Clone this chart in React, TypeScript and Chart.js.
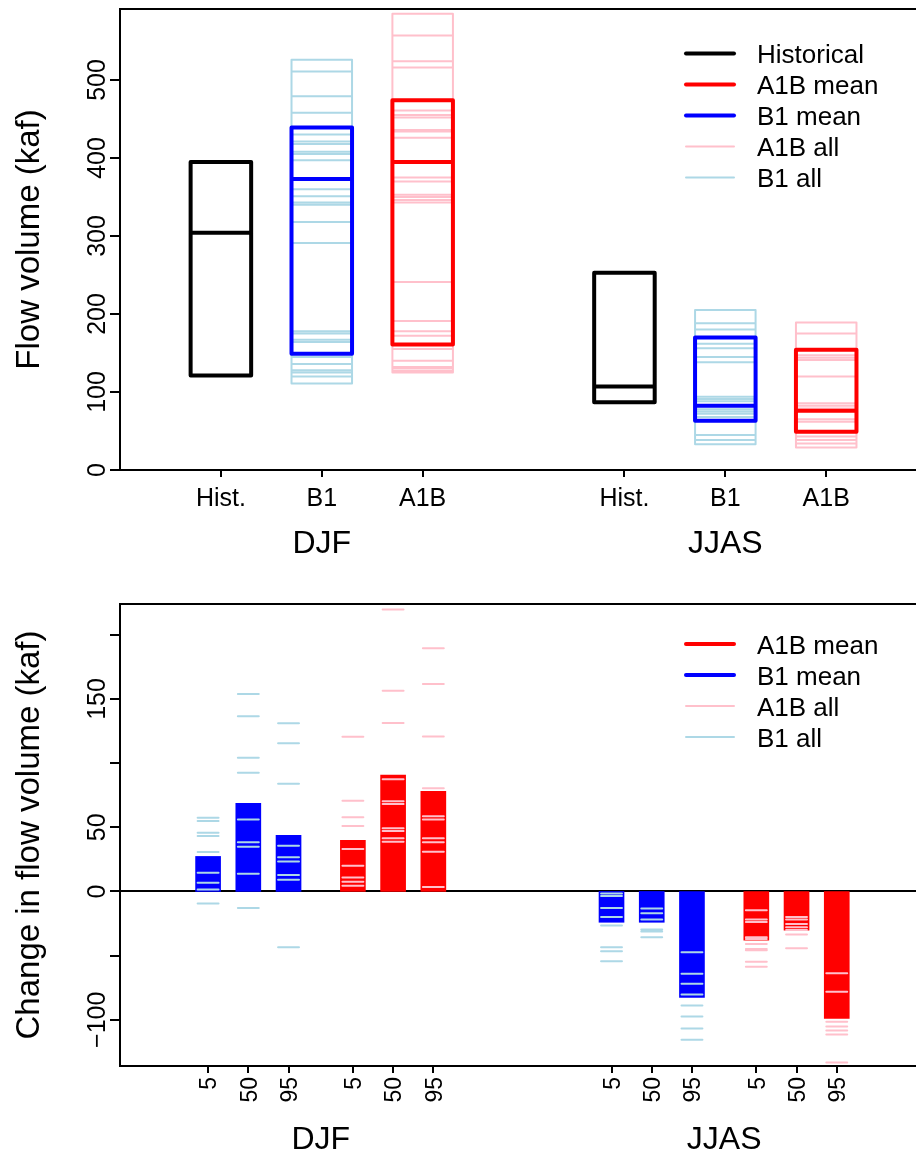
import React, { useEffect, useRef } from "react";
import { Chart, registerables } from "chart.js";

Chart.register(...registerables);

const FONT = '"Liberation Sans", Arial, Helvetica, sans-serif';
const BLACK = "#000000";
const RED = "#FF0000";
const BLUE = "#0000FF";
const PINK = "#FFC0CB";
const LIGHTBLUE = "#ADD8E6";

// ---------- shared categories ----------
const seasons = ["DJF", "JJAS"];

// ---------- top panel: flow volume (kaf) ----------
const topCategories = ["Hist.", "B1", "A1B"];
const topYTicks = [0, 100, 200, 300, 400, 500];

// [low, middle, high]
const histBox = [
  [121, 304, 395],
  [87, 107, 253],
];
const b1MeanBox = [
  [149, 373, 439],
  [63, 82.5, 170],
];
const a1bMeanBox = [
  [161, 395, 474],
  [49, 76, 154],
];

const b1AllDJF = [526, 511, 479, 458, 430, 421, 418, 408, 405, 397, 360, 351, 343, 340, 318, 291, 178, 175, 167, 164, 145, 136, 128, 125, 120, 111];
const b1AllJJAS = [205, 188, 180, 162, 156, 145, 138, 94, 91, 88, 78, 75, 72, 68, 45, 38.5, 33];
const a1bAllDJF = [585, 557, 524, 516, 461, 455, 452, 436, 434, 426, 375, 370, 353, 350, 346, 343, 241, 191, 178, 172, 155, 140, 132, 130, 127, 125];
const a1bAllJJAS = [189, 175, 147, 144, 141, 120, 85.5, 82.5, 79, 65, 62, 43, 38.5, 34, 29];

// ---------- bottom panel: change in flow volume (kaf) ----------
const percentiles = ["5", "50", "95"];
const bottomYTicks = [-100, -50, 0, 50, 100, 150, 200];
const bottomYLabelled = [-100, 0, 50, 150];

const b1MeanChange = [
  [27.3, 68.75, 43.75],
  [-24, -24, -82.6],
];
const a1bMeanChange = [
  [39.8, 90.6, 78.1],
  [-38, -30.2, -99],
];

const b1AllChange = [
  [
    [57.5, 54.9, 45.8, 43.2, 30.7, 14.6, 6.8, 1.6, -9.4],
    [153.9, 136.5, 104.2, 92.5, 56, 38.3, 34.9, 13.8, -12.8],
    [131, 115.4, 83.9, 35.7, 26.6, 23.4, 12.8, 9.1, -43.5],
  ],
  [
    [-1.6, -3.6, -12.8, -19.8, -26.6, -43.5, -46.6, -54.4],
    [-13.3, -16.9, -21.9, -29.7, -31.25, -35.7],
    [-47.4, -64.1, -71.9, -80.2, -88.8, -97.4, -106.8, -115.6],
  ],
];
const a1bAllChange = [
  [
    [120.6, 70.6, 57.8, 51, 33, 20, 10.9, 7.6, 4.4],
    [219.8, 156.5, 131.25, 87.5, 70.3, 68.2, 49.2, 47.1, 41.4, 38.8],
    [189.6, 161.7, 120.8, 80.5, 58.6, 56, 41.4, 38.3, 31, 3.4],
  ],
  [
    [-14.6, -21.9, -23.7, -35.7, -37, -40.9, -44.8, -45.8, -54.7, -58.6],
    [-19.8, -21.9, -25.3, -27.9, -30, -33.6, -44.3],
    [-63.8, -78.1, -101.6, -105.2, -108.3, -111.5, -133.3],
  ],
];

// ---------- helpers ----------
type Pt = { x: number; y: number | null };

const topPos = (season: number, cat: number) => season * 4 + cat + 1;
const bottomPos = (season: number, scen: number, pct: number) => season * 10.03 + scen * 3.6 + pct;

function hSegments(c: number, h: number, values: number[]): Pt[] {
  const pts: Pt[] = [];
  values.forEach((v) => {
    pts.push({ x: c - h, y: v }, { x: c + h, y: v }, { x: c, y: null });
  });
  return pts;
}
function sides(c: number, h: number, values: number[]): Pt[] {
  const lo = Math.min(...values);
  const hi = Math.max(...values);
  return [
    { x: c - h, y: lo }, { x: c - h, y: hi }, { x: c, y: null },
    { x: c + h, y: lo }, { x: c + h, y: hi }, { x: c, y: null },
  ];
}
function box(c: number, h: number, b: number[]): Pt[] {
  const [lo, med, hi] = b;
  return [
    { x: c - h, y: lo }, { x: c - h, y: hi }, { x: c + h, y: hi }, { x: c + h, y: lo }, { x: c - h, y: lo },
    { x: c, y: null },
    { x: c - h, y: med }, { x: c + h, y: med }, { x: c, y: null },
  ];
}

const lineDs = (data: Pt[], color: string, width: number, order: number) => ({
  type: "line" as const,
  data,
  borderColor: color,
  backgroundColor: color,
  borderWidth: width,
  pointRadius: 0,
  pointHoverRadius: 0,
  spanGaps: false,
  tension: 0,
  fill: false,
  borderCapStyle: "round" as const,
  borderJoinStyle: "round" as const,
  order,
});

type LegendItem = { label: string; color: string; width: number };

function drawLegend(ctx: CanvasRenderingContext2D, items: LegendItem[], x0: number, x1: number, tx: number, y0: number, dy: number) {
  ctx.save();
  ctx.font = `26px ${FONT}`;
  ctx.textAlign = "left";
  ctx.textBaseline = "alphabetic";
  items.forEach((it, i) => {
    const y = y0 + i * dy;
    ctx.strokeStyle = it.color;
    ctx.lineWidth = it.width;
    ctx.lineCap = "round";
    ctx.beginPath();
    ctx.moveTo(x0, y);
    ctx.lineTo(x1, y);
    ctx.stroke();
    ctx.fillStyle = BLACK;
    ctx.fillText(it.label, tx, y + 9.5);
  });
  ctx.restore();
}

function drawFrameAndY(chart: any, ticks: number[], labelled: number[], labelText: (v: number) => string, title: string) {
  const { ctx, chartArea: a, scales } = chart;
  const y = scales.y;
  ctx.save();
  ctx.strokeStyle = BLACK;
  ctx.lineWidth = 2;
  ctx.lineCap = "butt";
  ctx.beginPath();
  ctx.moveTo(a.right + 5, a.top);
  ctx.lineTo(a.left, a.top);
  ctx.lineTo(a.left, a.bottom);
  ctx.lineTo(a.right + 5, a.bottom);
  ctx.stroke();
  ctx.beginPath();
  ticks.forEach((t) => {
    const py = Math.round(y.getPixelForValue(t));
    ctx.moveTo(a.left - 10, py);
    ctx.lineTo(a.left, py);
  });
  ctx.stroke();
  ctx.fillStyle = BLACK;
  ctx.font = `25px ${FONT}`;
  ctx.textAlign = "center";
  ctx.textBaseline = "alphabetic";
  labelled.forEach((t) => {
    const py = y.getPixelForValue(t);
    ctx.save();
    ctx.translate(105, py);
    ctx.rotate(-Math.PI / 2);
    ctx.fillText(labelText(t), 0, 0);
    ctx.restore();
  });
  ctx.font = `33px ${FONT}`;
  ctx.save();
  ctx.translate(39, (a.top + a.bottom) / 2);
  ctx.rotate(-Math.PI / 2);
  ctx.fillText(title, 0, 0);
  ctx.restore();
  ctx.restore();
}

function TopPanel() {
  const ref = useRef<HTMLCanvasElement | null>(null);
  useEffect(() => {
    if (!ref.current) return;
    const h = 0.3;
    const b1All = [b1AllDJF, b1AllJJAS];
    const a1bAll = [a1bAllDJF, a1bAllJJAS];
    const lightB1: Pt[] = [];
    const lightA1B: Pt[] = [];
    const histPts: Pt[] = [];
    const b1Pts: Pt[] = [];
    const a1bPts: Pt[] = [];
    seasons.forEach((_, s) => {
      lightB1.push(...sides(topPos(s, 1), h, b1All[s]), ...hSegments(topPos(s, 1), h, b1All[s]));
      lightA1B.push(...sides(topPos(s, 2), h, a1bAll[s]), ...hSegments(topPos(s, 2), h, a1bAll[s]));
      histPts.push(...box(topPos(s, 0), h, histBox[s]));
      b1Pts.push(...box(topPos(s, 1), h, b1MeanBox[s]));
      a1bPts.push(...box(topPos(s, 2), h, a1bMeanBox[s]));
    });

    const plugin = {
      id: "topAxes",
      afterDraw(chart: any) {
        const { ctx, chartArea: a, scales } = chart;
        const x = scales.x;
        drawFrameAndY(chart, topYTicks, topYTicks, (v) => String(v), "Flow volume (kaf)");
        ctx.save();
        ctx.strokeStyle = BLACK;
        ctx.lineWidth = 2;
        ctx.beginPath();
        seasons.forEach((_, s) => {
          topCategories.forEach((__, c) => {
            const px = Math.round(x.getPixelForValue(topPos(s, c)));
            ctx.moveTo(px, a.bottom);
            ctx.lineTo(px, a.bottom + 7);
          });
        });
        ctx.stroke();
        ctx.fillStyle = BLACK;
        ctx.textAlign = "center";
        ctx.textBaseline = "alphabetic";
        ctx.font = `25px ${FONT}`;
        seasons.forEach((_, s) => {
          topCategories.forEach((lab, c) => {
            ctx.fillText(lab, x.getPixelForValue(topPos(s, c)), 506);
          });
        });
        ctx.font = `32px ${FONT}`;
        seasons.forEach((lab, s) => {
          ctx.fillText(lab, x.getPixelForValue(topPos(s, 1)), 553);
        });
        ctx.restore();
        drawLegend(
          ctx,
          [
            { label: "Historical", color: BLACK, width: 4 },
            { label: "A1B mean", color: RED, width: 4 },
            { label: "B1 mean", color: BLUE, width: 4 },
            { label: "A1B all", color: PINK, width: 2 },
            { label: "B1 all", color: LIGHTBLUE, width: 2 },
          ],
          686, 734, 757, 53.5, 31
        );
      },
    };

    const chart = new Chart(ref.current, {
      type: "scatter",
      data: {
        datasets: [
          lineDs(lightB1, LIGHTBLUE, 2, 10),
          lineDs(lightA1B, PINK, 2, 10),
          lineDs(histPts, BLACK, 4, 0),
          lineDs(b1Pts, BLUE, 4, 0),
          lineDs(a1bPts, RED, 4, 0),
        ] as any,
      },
      options: {
        animation: false,
        responsive: false,
        devicePixelRatio: 1,
        events: [],
        layout: { padding: { left: 120, right: 0, top: 9, bottom: 106 } },
        plugins: { legend: { display: false }, tooltip: { enabled: false } },
        scales: {
          x: { type: "linear", min: 0, max: 7.89, offset: false, display: false },
          y: { type: "linear", min: 0, max: 591, display: false },
        },
      },
      plugins: [plugin],
    });
    return () => chart.destroy();
  }, []);
  return <canvas ref={ref} width={916} height={576} style={{ display: "block" }} />;
}

function BottomPanel() {
  const ref = useRef<HTMLCanvasElement | null>(null);
  useEffect(() => {
    if (!ref.current) return;
    const h = 0.26;
    const bars: { x: number; y: number }[] = [];
    const barColors: string[] = [];
    const lightB1: Pt[] = [];
    const lightA1B: Pt[] = [];
    seasons.forEach((_, s) => {
      percentiles.forEach((__, p) => {
        bars.push({ x: bottomPos(s, 0, p), y: b1MeanChange[s][p] });
        barColors.push(BLUE);
        lightB1.push(...hSegments(bottomPos(s, 0, p), h, b1AllChange[s][p]));
      });
      percentiles.forEach((__, p) => {
        bars.push({ x: bottomPos(s, 1, p), y: a1bMeanChange[s][p] });
        barColors.push(RED);
        lightA1B.push(...hSegments(bottomPos(s, 1, p), h, a1bAllChange[s][p]));
      });
    });

    const plugin = {
      id: "bottomAxes",
      beforeDatasetsDraw(chart: any) {
        const { ctx, chartArea: a, scales } = chart;
        const py = Math.round(scales.y.getPixelForValue(0));
        ctx.save();
        ctx.strokeStyle = BLACK;
        ctx.lineWidth = 2;
        ctx.beginPath();
        ctx.moveTo(a.left, py);
        ctx.lineTo(a.right + 5, py);
        ctx.stroke();
        ctx.restore();
      },
      afterDraw(chart: any) {
        const { ctx, chartArea: a, scales } = chart;
        const x = scales.x;
        drawFrameAndY(
          chart,
          bottomYTicks,
          bottomYLabelled,
          (v) => (v < 0 ? "\u2212" + String(-v) : String(v)),
          "Change in flow volume (kaf)"
        );
        ctx.save();
        ctx.strokeStyle = BLACK;
        ctx.lineWidth = 2;
        ctx.beginPath();
        seasons.forEach((_, s) => {
          [0, 1].forEach((sc) => {
            percentiles.forEach((__, p) => {
              const px = Math.round(x.getPixelForValue(bottomPos(s, sc, p)));
              ctx.moveTo(px, a.bottom);
              ctx.lineTo(px, a.bottom + 7);
            });
          });
        });
        ctx.stroke();
        ctx.fillStyle = BLACK;
        ctx.font = `23px ${FONT}`;
        ctx.textAlign = "right";
        ctx.textBaseline = "alphabetic";
        seasons.forEach((_, s) => {
          [0, 1].forEach((sc) => {
            percentiles.forEach((lab, p) => {
              const px = x.getPixelForValue(bottomPos(s, sc, p));
              ctx.save();
              ctx.translate(px + 8.3, a.bottom + 11);
              ctx.rotate(-Math.PI / 2);
              ctx.fillText(lab, 0, 0);
              ctx.restore();
            });
          });
        });
        ctx.textAlign = "center";
        ctx.font = `32px ${FONT}`;
        seasons.forEach((lab, s) => {
          ctx.fillText(lab, x.getPixelForValue(bottomPos(s, 0, 0) + 2.8), 573);
        });
        ctx.restore();
        drawLegend(
          ctx,
          [
            { label: "A1B mean", color: RED, width: 4 },
            { label: "B1 mean", color: BLUE, width: 4 },
            { label: "A1B all", color: PINK, width: 2 },
            { label: "B1 all", color: LIGHTBLUE, width: 2 },
          ],
          686, 734, 757, 68, 31
        );
      },
    };

    const chart = new Chart(ref.current, {
      type: "scatter",
      data: {
        datasets: [
          {
            type: "bar",
            data: bars,
            backgroundColor: barColors,
            borderWidth: 0,
            barThickness: 25,
            grouped: false,
            order: 10,
          },
          lineDs(lightB1, LIGHTBLUE, 2, 0),
          lineDs(lightA1B, PINK, 2, 0),
        ] as any,
      },
      options: {
        animation: false,
        responsive: false,
        devicePixelRatio: 1,
        events: [],
        layout: { padding: { left: 120, right: 0, top: 28, bottom: 86 } },
        plugins: { legend: { display: false }, tooltip: { enabled: false } },
        scales: {
          x: { type: "linear", min: -2.19, max: 17.6, offset: false, display: false, grid: { offset: false } },
          y: { type: "linear", min: -136, max: 224, display: false },
        },
      },
      plugins: [plugin],
    });
    return () => chart.destroy();
  }, []);
  return <canvas ref={ref} width={916} height={576} style={{ display: "block" }} />;
}

export default function App() {
  useEffect(() => {
    document.body.style.margin = "0";
  }, []);
  return (
    <div style={{ width: 916, height: 1152, background: "#ffffff", overflow: "hidden" }}>
      <TopPanel />
      <BottomPanel />
    </div>
  );
}
